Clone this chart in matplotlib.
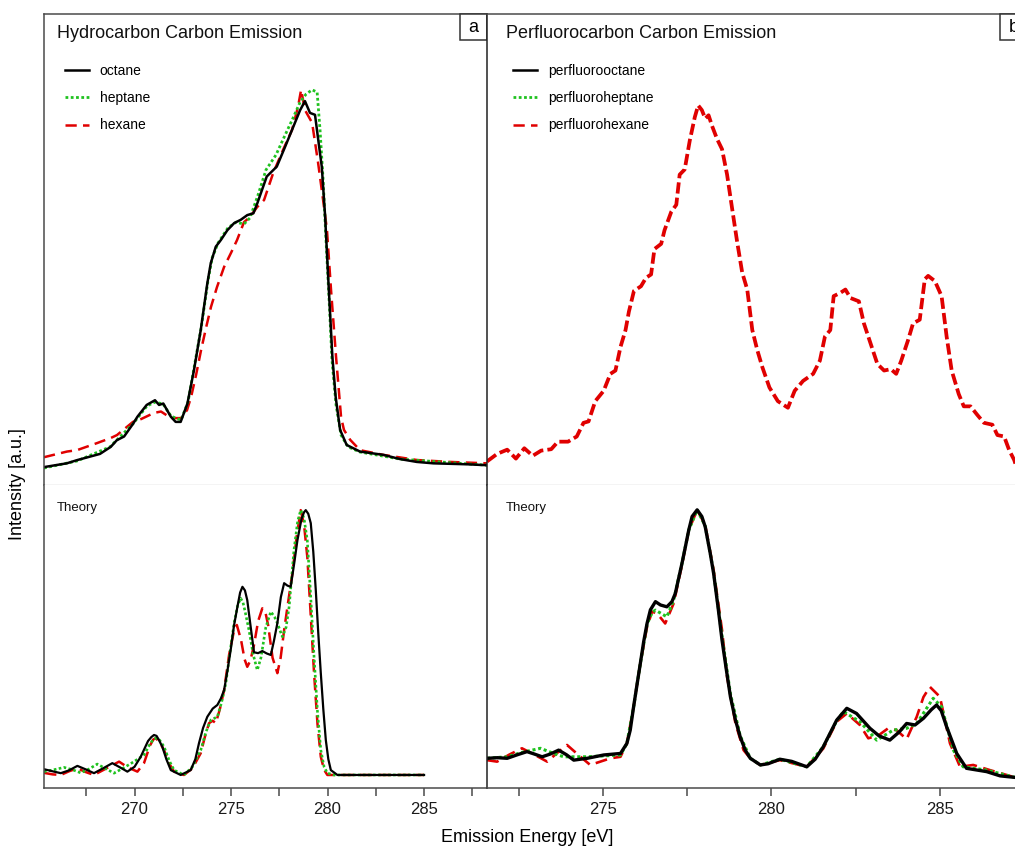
import matplotlib
matplotlib.use('Agg')
import matplotlib.pyplot as plt
from matplotlib.lines import Line2D
from matplotlib.patches import Rectangle

plt.rcParams['font.family'] = ['Liberation Sans', 'DejaVu Sans']

# ---------------- data ----------------
# Panel a, experiment (energy eV, intensity a.u.)
octane_E = [265.31, 266.49, 267.04, 268.21, 268.77, 269.08, 269.46, 269.94, 270.15, 270.63, 271.06, 271.27,
            271.49, 271.88, 272.13, 272.39, 272.74, 273.08, 273.43, 273.77, 273.95, 274.21, 274.47, 274.81,
            275.16, 275.50, 275.84, 276.16, 276.36, 276.54, 276.85, 277.37, 277.80, 278.23, 278.58, 278.83,
            279.09, 279.35, 279.52, 279.70, 279.87, 280.04, 280.25, 280.42, 280.65, 280.99, 281.68, 282.89,
            283.76, 284.62, 285.48, 287.21, 288.26]
octane_I = [0.038, 0.046, 0.053, 0.066, 0.081, 0.095, 0.103, 0.131, 0.145, 0.170, 0.180, 0.170,
            0.173, 0.145, 0.134, 0.134, 0.173, 0.244, 0.329, 0.428, 0.471, 0.506, 0.520, 0.541,
            0.556, 0.563, 0.573, 0.577, 0.598, 0.619, 0.655, 0.676, 0.718, 0.761, 0.796, 0.815,
            0.790, 0.786, 0.732, 0.676, 0.573, 0.435, 0.272, 0.187, 0.117, 0.085, 0.071, 0.064,
            0.055, 0.049, 0.046, 0.044, 0.042]

heptane_E = [265.31, 267.02, 268.73, 269.92, 270.65, 271.06, 271.48, 271.89, 272.41, 272.77, 273.08, 273.45,
             273.81, 274.02, 274.33, 274.84, 275.26, 275.67, 275.98, 276.40, 276.81, 277.33, 277.80, 278.21,
             278.58, 278.89, 279.20, 279.46, 279.61, 279.77, 279.92, 280.08, 280.23, 280.44, 280.70, 281.06,
             281.68, 283.76, 285.83, 288.26]
heptane_I = [0.036, 0.051, 0.081, 0.130, 0.168, 0.176, 0.172, 0.146, 0.138, 0.176, 0.248, 0.333,
             0.435, 0.482, 0.514, 0.546, 0.558, 0.554, 0.567, 0.616, 0.669, 0.701, 0.743, 0.779,
             0.813, 0.830, 0.839, 0.834, 0.754, 0.648, 0.520, 0.393, 0.265, 0.170, 0.106, 0.081,
             0.070, 0.055, 0.049, 0.042]

hexane_E = [265.31, 266.50, 267.02, 268.06, 268.78, 269.09, 269.92, 270.34, 271.01, 271.37, 271.63, 271.89,
            272.41, 272.72, 272.93, 273.19, 273.45, 273.70, 273.96, 274.27, 274.64, 275.00, 275.31, 275.67,
            275.98, 276.35, 276.71, 277.18, 277.69, 278.16, 278.47, 278.63, 278.83, 279.20, 279.51, 279.77,
            279.97, 280.18, 280.44, 280.70, 280.85, 281.17, 281.68, 282.88, 284.64, 286.35, 288.26]
hexane_I = [0.059, 0.071, 0.074, 0.089, 0.100, 0.106, 0.134, 0.140, 0.153, 0.156, 0.149, 0.142,
            0.142, 0.159, 0.187, 0.234, 0.287, 0.333, 0.378, 0.420, 0.463, 0.493, 0.520, 0.558,
            0.569, 0.590, 0.605, 0.662, 0.711, 0.754, 0.803, 0.839, 0.796, 0.769, 0.684, 0.605,
            0.541, 0.414, 0.272, 0.144, 0.117, 0.096, 0.074, 0.064, 0.053, 0.049, 0.046]

# Panel b, experiment (perfluorohexane)
pfhexane_E = [271.54, 271.84, 272.14, 272.40, 272.65, 272.90, 273.15, 273.45, 273.65, 273.95, 274.21, 274.41,
              274.56, 274.76, 275.01, 275.21, 275.36, 275.51, 275.66, 275.76, 275.91, 276.12, 276.27, 276.42,
              276.52, 276.72, 276.82, 277.02, 277.17, 277.27, 277.42, 277.57, 277.72, 277.82, 277.93, 278.03,
              278.13, 278.23, 278.38, 278.53, 278.68, 278.83, 278.98, 279.13, 279.28, 279.43, 279.58, 279.73,
              279.94, 280.19, 280.49, 280.69, 280.94, 281.24, 281.44, 281.59, 281.75, 281.85, 282.05, 282.20,
              282.35, 282.60, 282.75, 282.95, 283.15, 283.35, 283.55, 283.71, 283.86, 284.06, 284.21, 284.41,
              284.56, 284.66, 284.86, 285.06, 285.21, 285.36, 285.57, 285.72, 285.92, 286.12, 286.32, 286.57,
              286.72, 286.92, 287.07, 287.22, 287.30]
pfhexane_I = [0.050, 0.066, 0.075, 0.056, 0.078, 0.062, 0.073, 0.076, 0.092, 0.092, 0.103, 0.132,
              0.135, 0.178, 0.200, 0.236, 0.243, 0.293, 0.329, 0.368, 0.412, 0.422, 0.440, 0.447,
              0.501, 0.512, 0.541, 0.580, 0.595, 0.659, 0.670, 0.731, 0.781, 0.806, 0.796, 0.778,
              0.785, 0.763, 0.735, 0.713, 0.659, 0.587, 0.516, 0.451, 0.415, 0.329, 0.286, 0.250,
              0.207, 0.178, 0.164, 0.200, 0.221, 0.236, 0.264, 0.315, 0.329, 0.401, 0.408, 0.415,
              0.397, 0.390, 0.343, 0.300, 0.257, 0.243, 0.246, 0.236, 0.264, 0.307, 0.343, 0.351,
              0.437, 0.444, 0.433, 0.401, 0.315, 0.243, 0.193, 0.167, 0.167, 0.149, 0.132, 0.128,
              0.106, 0.103, 0.074, 0.053, 0.035]

# Panel a, theory
octane_th_E = [265.31, 265.83, 266.18, 266.60, 267.04, 267.45, 267.90, 268.40, 268.85, 269.25, 269.63, 270.00,
               270.32, 270.70, 270.87, 271.01, 271.14, 271.25, 271.44, 271.65, 271.88, 272.39, 272.91, 273.15,
               273.34, 273.55, 273.77, 274.05, 274.29, 274.47, 274.64, 274.82, 274.98, 275.15, 275.33, 275.47,
               275.59, 275.72, 275.84, 276.00, 276.19, 276.40, 276.62, 276.85, 277.06, 277.22, 277.40, 277.58,
               277.75, 277.92, 278.09, 278.28, 278.44, 278.65, 278.78, 278.87, 279.00, 279.13, 279.26, 279.39,
               279.52, 279.65, 279.78, 279.91, 280.04, 280.17, 280.51, 285.00]
octane_th_I = [0.062, 0.054, 0.049, 0.058, 0.073, 0.062, 0.049, 0.066, 0.082, 0.068, 0.054, 0.070,
               0.103, 0.155, 0.168, 0.175, 0.172, 0.160, 0.136, 0.095, 0.059, 0.043, 0.059, 0.095,
               0.148, 0.198, 0.235, 0.262, 0.274, 0.295, 0.323, 0.390, 0.455, 0.535, 0.598, 0.645,
               0.664, 0.652, 0.620, 0.540, 0.448, 0.445, 0.452, 0.444, 0.439, 0.485, 0.544, 0.630,
               0.676, 0.668, 0.664, 0.745, 0.818, 0.888, 0.910, 0.917, 0.905, 0.874, 0.780, 0.653,
               0.510, 0.379, 0.260, 0.158, 0.095, 0.059, 0.043, 0.043]

heptane_th_E = [265.31, 265.80, 266.35, 266.80, 267.21, 267.65, 268.07, 268.50, 268.94, 269.45, 269.97, 270.49,
                270.80, 270.97, 271.10, 271.30, 271.53, 271.80, 272.05, 272.56, 273.00, 273.43, 273.70, 273.95,
                274.29, 274.50, 274.73, 274.95, 275.16, 275.35, 275.50, 275.62, 275.72, 275.93, 276.15, 276.36,
                276.55, 276.80, 277.06, 277.25, 277.40, 277.66, 277.85, 278.01, 278.26, 278.45, 278.61, 278.78,
                278.95, 279.12, 279.30, 279.48, 279.65, 279.82, 279.99, 280.34, 285.00]
heptane_th_I = [0.054, 0.060, 0.068, 0.060, 0.050, 0.063, 0.079, 0.064, 0.049, 0.067, 0.087, 0.109,
                0.145, 0.160, 0.164, 0.158, 0.136, 0.090, 0.059, 0.043, 0.070, 0.125, 0.185, 0.224,
                0.235, 0.280, 0.346, 0.450, 0.544, 0.605, 0.626, 0.612, 0.585, 0.521, 0.440, 0.389,
                0.430, 0.530, 0.582, 0.565, 0.544, 0.499, 0.530, 0.598, 0.785, 0.880, 0.917, 0.890,
                0.818, 0.640, 0.433, 0.250, 0.125, 0.070, 0.049, 0.043, 0.043]

hexane_th_E = [265.31, 265.75, 266.18, 266.60, 267.04, 267.45, 267.90, 268.55, 269.20, 269.65, 270.15, 270.49,
               270.80, 270.97, 271.10, 271.30, 271.53, 271.80, 272.05, 272.56, 273.00, 273.43, 273.65, 273.86,
               274.05, 274.21, 274.42, 274.64, 274.90, 275.16, 275.30, 275.52, 275.70, 275.84, 276.00, 276.19,
               276.40, 276.62, 276.78, 276.92, 277.15, 277.40, 277.57, 277.75, 277.95, 278.18, 278.40, 278.61,
               278.78, 278.95, 279.12, 279.30, 279.48, 279.65, 279.82, 279.99, 285.00]
hexane_th_I = [0.050, 0.045, 0.043, 0.055, 0.065, 0.053, 0.043, 0.065, 0.087, 0.068, 0.054, 0.082,
               0.140, 0.160, 0.164, 0.152, 0.125, 0.080, 0.054, 0.043, 0.065, 0.115, 0.170, 0.214,
               0.222, 0.214, 0.260, 0.323, 0.440, 0.521, 0.538, 0.488, 0.425, 0.400, 0.420, 0.472,
               0.550, 0.593, 0.580, 0.538, 0.430, 0.379, 0.430, 0.521, 0.610, 0.709, 0.830, 0.917,
               0.870, 0.763, 0.580, 0.379, 0.210, 0.103, 0.060, 0.043, 0.043]

# Panel b, theory
pfoctane_th_E = [271.54, 271.85, 272.14, 272.45, 272.73, 272.95, 273.18, 273.42, 273.67, 273.90, 274.12, 274.52,
                 275.01, 275.51, 275.70, 275.80, 275.90, 276.00, 276.10, 276.20, 276.30, 276.40, 276.55, 276.70,
                 276.89, 277.04, 277.14, 277.34, 277.44, 277.54, 277.64, 277.79, 277.93, 278.03, 278.18, 278.28,
                 278.41, 278.53, 278.66, 278.78, 278.93, 279.07, 279.22, 279.37, 279.67, 279.90, 280.25, 280.60,
                 281.05, 281.30, 281.54, 281.94, 282.24, 282.53, 282.93, 283.20, 283.52, 283.80, 284.02, 284.27,
                 284.52, 284.75, 284.91, 285.05, 285.21, 285.51, 285.80, 286.40, 286.80, 287.24, 287.60]
pfoctane_th_I = [0.098, 0.100, 0.098, 0.110, 0.120, 0.112, 0.103, 0.112, 0.125, 0.110, 0.092, 0.098,
                 0.109, 0.114, 0.147, 0.191, 0.268, 0.340, 0.411, 0.483, 0.543, 0.588, 0.615, 0.604,
                 0.598, 0.615, 0.642, 0.742, 0.796, 0.851, 0.896, 0.918, 0.896, 0.862, 0.774, 0.708,
                 0.598, 0.488, 0.389, 0.301, 0.224, 0.169, 0.125, 0.098, 0.076, 0.080, 0.095, 0.088,
                 0.070, 0.095, 0.136, 0.224, 0.263, 0.246, 0.197, 0.172, 0.158, 0.185, 0.213, 0.208,
                 0.230, 0.258, 0.274, 0.255, 0.202, 0.114, 0.065, 0.054, 0.040, 0.035, 0.032]

pfheptane_th_E = [271.54, 272.14, 272.60, 273.13, 273.50, 273.82, 274.52, 275.51, 275.70, 275.90, 276.10, 276.30,
                  276.45, 276.55, 276.89, 277.09, 277.34, 277.54, 277.79, 278.03, 278.28, 278.53, 278.78, 279.07,
                  279.37, 279.67, 280.25, 281.05, 281.54, 281.94, 282.14, 282.63, 283.13, 283.62, 284.02, 284.32,
                  284.81, 285.06, 285.41, 285.70, 286.40, 287.24, 287.60]
pfheptane_th_I = [0.098, 0.103, 0.118, 0.131, 0.115, 0.103, 0.103, 0.109, 0.147, 0.268, 0.411, 0.540,
                  0.580, 0.587, 0.565, 0.620, 0.742, 0.851, 0.918, 0.865, 0.712, 0.500, 0.310, 0.172,
                  0.098, 0.076, 0.095, 0.070, 0.136, 0.222, 0.252, 0.219, 0.158, 0.191, 0.197, 0.213,
                  0.296, 0.268, 0.125, 0.070, 0.059, 0.035, 0.032]

pfhexane_th_E = [271.54, 271.84, 272.20, 272.58, 272.95, 273.33, 273.62, 273.92, 274.25, 274.61, 275.21, 275.51,
                 275.70, 275.90, 276.10, 276.30, 276.45, 276.60, 276.84, 277.09, 277.34, 277.54, 277.79, 278.03,
                 278.28, 278.53, 278.68, 278.93, 279.17, 279.37, 279.67, 280.25, 281.05, 281.54, 281.94, 282.24,
                 282.63, 282.88, 283.20, 283.47, 283.72, 284.02, 284.32, 284.52, 284.71, 285.01, 285.31, 285.61,
                 286.00, 286.50, 287.24, 287.60]
pfhexane_th_I = [0.092, 0.087, 0.110, 0.131, 0.110, 0.087, 0.115, 0.142, 0.110, 0.076, 0.098, 0.103,
                 0.147, 0.268, 0.411, 0.532, 0.582, 0.576, 0.543, 0.609, 0.736, 0.851, 0.918, 0.868,
                 0.719, 0.521, 0.367, 0.213, 0.125, 0.098, 0.076, 0.092, 0.070, 0.130, 0.219, 0.246,
                 0.208, 0.164, 0.175, 0.197, 0.191, 0.161, 0.235, 0.300, 0.334, 0.301, 0.147, 0.070,
                 0.076, 0.059, 0.035, 0.032]

labels_a = ['octane', 'heptane', 'hexane']
labels_b = ['perfluorooctane', 'perfluoroheptane', 'perfluorohexane']
ticks_a = [270, 275, 280, 285]
minor_a = [267.5, 272.5, 277.5, 282.5, 287.5]
ticks_b = [275, 280, 285]
minor_b = [272.5, 277.5, 282.5, 287.5]

# ---------------- styling ----------------
BLACK = '#000000'
GREEN = '#1fc21f'
RED = '#e00000'
FRAME = '#4a4a4a'

W, H = 1015, 848
fig = plt.figure(figsize=(W / 100, H / 100), dpi=100)


def px_axes(x0, y0, x1, y1):
    return fig.add_axes([x0 / W, 1 - y1 / H, (x1 - x0) / W, (y1 - y0) / H])


ax_tl = px_axes(44, 14, 487, 485)
ax_bl = px_axes(44, 485, 487, 788)
ax_tr = px_axes(487, 14, 1027, 485)
ax_br = px_axes(487, 485, 1027, 788)

xl_a = (265.31, 288.26)
xl_b = (271.54, 287.60)

s_black = dict(color=BLACK, lw=1.8, solid_joinstyle='round')
s_green = dict(color=GREEN, lw=2.0, linestyle=(0, (1, 0.9)))
s_red = dict(color=RED, lw=1.8, linestyle=(0, (4.5, 2.5)))

# top-left experiment
ax_tl.plot(hexane_E, hexane_I, **s_red)
ax_tl.plot(heptane_E, heptane_I, **s_green)
ax_tl.plot(octane_E, octane_I, **s_black)

# top-right experiment
ax_tr.plot(pfhexane_E, pfhexane_I, color=RED, lw=2.7, linestyle=(0, (3, 1.1)))

# bottom-left theory
ax_bl.plot(hexane_th_E, hexane_th_I, color=RED, lw=1.8, linestyle=(0, (5, 2.5)))
ax_bl.plot(heptane_th_E, heptane_th_I, color=GREEN, lw=1.9, linestyle=(0, (1, 0.9)))
ax_bl.plot(octane_th_E, octane_th_I, color=BLACK, lw=1.6, solid_joinstyle='round')

# bottom-right theory
ax_br.plot(pfhexane_th_E, pfhexane_th_I, color=RED, lw=1.9, linestyle=(0, (4.5, 2.5)))
ax_br.plot(pfheptane_th_E, pfheptane_th_I, color=GREEN, lw=2.2, linestyle=(0, (1, 0.9)))
ax_br.plot(pfoctane_th_E, pfoctane_th_I, color=BLACK, lw=2.4, solid_joinstyle='round')

for ax, xl in ((ax_tl, xl_a), (ax_bl, xl_a), (ax_tr, xl_b), (ax_br, xl_b)):
    ax.set_xlim(*xl)
    ax.set_ylim(0, 1)
    ax.set_yticks([])
    for sp in ax.spines.values():
        sp.set_color(FRAME)
        sp.set_linewidth(1.1)

for ax in (ax_tl, ax_tr):
    ax.set_xticks([])
    ax.spines['bottom'].set_color('#c8c8c8')
    ax.spines['bottom'].set_linewidth(1.0)
ax_tl.spines['right'].set_visible(False)

for ax, mj, mn in ((ax_bl, ticks_a, minor_a), (ax_br, ticks_b, minor_b)):
    ax.spines['top'].set_visible(False)
    ax.spines['right'].set_visible(False)
    ax.set_xticks(mj)
    ax.set_xticks(mn, minor=True)
    ax.tick_params(axis='x', which='both', direction='out', length=6, width=1.1,
                   color=FRAME, labelsize=12, pad=4, labelcolor='#1a1a1a')
ax_tr.spines['left'].set_color('#222222')
ax_br.spines['left'].set_color('#222222')

# titles
ax_tl.text(13 / 443, (485 - 33) / 471, 'Hydrocarbon Carbon Emission', transform=ax_tl.transAxes,
           fontsize=13, va='center', ha='left', color='#111111')
ax_tr.text(19 / 540, (485 - 33) / 471, 'Perfluorocarbon Carbon Emission', transform=ax_tr.transAxes,
           fontsize=13, va='center', ha='left', color='#111111')

# theory tags
ax_bl.text(13 / 443, (788 - 508) / 303, 'Theory', transform=ax_bl.transAxes, fontsize=9.5,
           va='center', ha='left', color='#111111')
ax_br.text(19 / 540, (788 - 508) / 303, 'Theory', transform=ax_br.transAxes, fontsize=9.5,
           va='center', ha='left', color='#111111')

# legends
def make_handles():
    return [Line2D([], [], **s_black), Line2D([], [], **s_green), Line2D([], [], **s_red)]


for ax, labels, wpx, xoff in ((ax_tl, labels_a, 443, 21), (ax_tr, labels_b, 540, 26)):
    ax.legend(make_handles(), labels, loc='upper left', bbox_to_anchor=(xoff / wpx, (485 - 64) / 471),
              frameon=False, fontsize=10, handlelength=1.7, handletextpad=0.8, labelspacing=0.95,
              borderaxespad=0, borderpad=0)

# panel letters
for ax, letter, wpx in ((ax_tl, 'a', 443), (ax_tr, 'b', 540)):
    bw, bh = 27 / wpx, 26 / 471
    ax.add_patch(Rectangle((1 - bw, 1 - bh), bw, bh, transform=ax.transAxes, facecolor='white',
                           edgecolor='#333333', lw=1.1, clip_on=False, zorder=5))
    ax.text(1 - bw / 2, 1 - bh / 2, letter, transform=ax.transAxes, ha='center', va='center',
            fontsize=13, zorder=6)

fig.text(18 / W, 1 - 484 / H, 'Intensity [a.u.]', rotation=90, ha='center', va='center', fontsize=13)
fig.text(527 / W, 1 - 838 / H, 'Emission Energy [eV]', ha='center', va='center', fontsize=13)

fig.savefig('out.png', dpi=100)
